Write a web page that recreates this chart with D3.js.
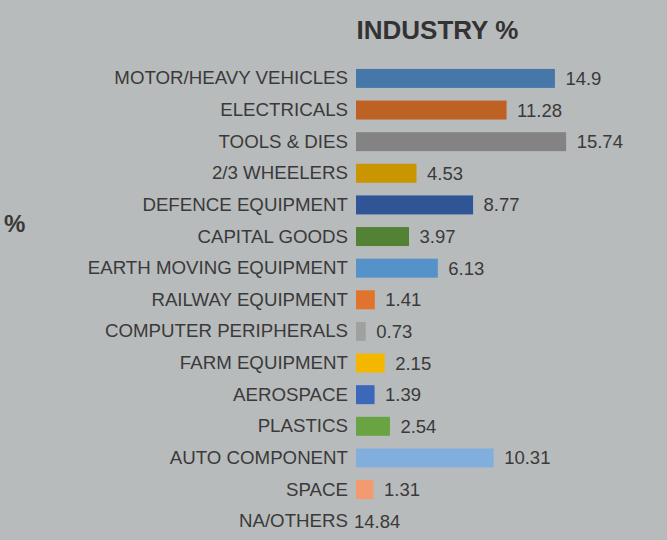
<!DOCTYPE html>
<html><head><meta charset="utf-8">
<script src="https://cdn.jsdelivr.net/npm/d3@7"></script>
<style>html,body{margin:0;padding:0;background:#b8bbbc;}svg{display:block;font-family:"Liberation Sans",Arial,sans-serif;}</style>
</head><body>
<script>
const categories = ["MOTOR/HEAVY VEHICLES","ELECTRICALS","TOOLS & DIES","2/3 WHEELERS","DEFENCE EQUIPMENT","CAPITAL GOODS","EARTH MOVING EQUIPMENT","RAILWAY EQUIPMENT","COMPUTER PERIPHERALS","FARM EQUIPMENT","AEROSPACE","PLASTICS","AUTO COMPONENT","SPACE","NA/OTHERS"];
const values = [14.9,11.28,15.74,4.53,8.77,3.97,6.13,1.41,0.73,2.15,1.39,2.54,10.31,1.31,14.84];
const valueLabels = ["14.9","11.28","15.74","4.53","8.77","3.97","6.13","1.41","0.73","2.15","1.39","2.54","10.31","1.31","14.84"];
const barColors = ["#4677a9","#bd6124","#838383","#c99500","#2f5597","#548235","#5592c9","#e0732d","#a0a0a0","#f3b700","#3d67b9","#69a342","#82aedd","#f39a70","none"];
const title = "INDUSTRY %";
const axisTitle = "%";

const W = 667, H = 540;
const svg = d3.select("body").append("svg").attr("width", W).attr("height", H);
svg.append("rect").attr("width", W).attr("height", H).attr("fill", "#b8bbbc");

const x = d3.scaleLinear().domain([0, 16]).range([356, 569.6]);
const y = d3.scaleBand().domain(categories).range([62.6, 537.0]).paddingInner(0.4).paddingOuter(0.2);

svg.append("text").attr("x", 356.5).attr("y", 39).attr("font-size", 26).attr("font-weight", "bold")
  .attr("fill", "#333").text(title);
svg.append("text").attr("x", 4).attr("y", 232).attr("font-size", 24).attr("font-weight", "bold")
  .attr("fill", "#3a3a3a").text(axisTitle);

const rows = categories.map((c, i) => ({c, v: values[i], l: valueLabels[i], col: barColors[i]}));

const yAxis = d3.axisLeft(y).tickSize(0).tickPadding(8);
const ga = svg.append("g").attr("transform", `translate(${x(0)},0)`).call(yAxis);
ga.select(".domain").remove();
ga.selectAll("text").attr("font-size", 18.7).attr("fill", "#3a3a3a")
  .attr("font-family", '"Liberation Sans",Arial,sans-serif');

svg.selectAll("rect.bar").data(rows.filter(d => d.col !== "none")).join("rect").attr("class", "bar")
  .attr("x", x(0)).attr("y", d => y(d.c)).attr("width", d => x(d.v) - x(0))
  .attr("height", y.bandwidth()).attr("fill", d => d.col);

svg.selectAll("text.val").data(rows).join("text").attr("class", "val")
  .attr("x", d => d.col === "none" ? x(0) - 2 : x(d.v) + 10.5)
  .attr("y", d => y(d.c) + y.bandwidth() / 2).attr("dy", "0.35em")
  .attr("font-size", 18.5).attr("fill", "#3a3a3a").text(d => d.l);
</script>
</body></html>
